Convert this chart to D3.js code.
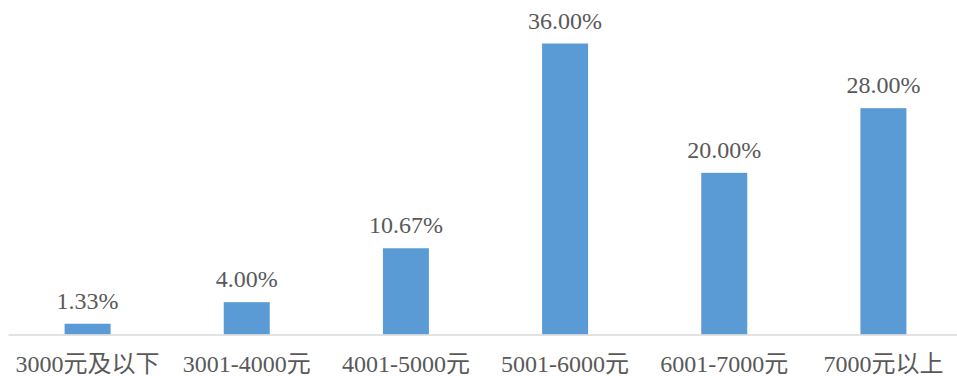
<!DOCTYPE html>
<html><head><meta charset="utf-8">
<script src="https://cdn.jsdelivr.net/npm/d3@7"></script>
<style>
html,body{margin:0;padding:0;background:#fff;}
svg text{font-family:"Liberation Serif","DejaVu Serif","Times New Roman",serif,"Noto Sans CJK SC" !important;fill:#595959;}
</style></head>
<body>
<svg id="chart" width="957" height="376"></svg>
<script>
const categories = ["3000元及以下","3001-4000元","4001-5000元","5001-6000元","6001-7000元","7000元以上"];
const values = [1.33, 4.00, 10.67, 36.00, 20.00, 28.00];
const valueLabels = ["1.33%","4.00%","10.67%","36.00%","20.00%","28.00%"];

const svg = d3.select("#chart");
const x = d3.scaleBand().domain(categories).range([8, 963]).paddingInner(0.711).paddingOuter(0.3555);
const y = d3.scaleLinear().domain([0, 40]).range([334.5, 334.5 - 8.083 * 40]);

svg.selectAll("rect.bar").data(values).enter().append("rect")
  .attr("class","bar")
  .attr("x",(d,i)=>x(categories[i]))
  .attr("width",x.bandwidth())
  .attr("y",d=>y(d))
  .attr("height",d=>y(0)-y(d))
  .attr("fill","#5b9bd5");

const axis = d3.axisBottom(x).tickSize(0).tickPadding(0).tickSizeOuter(0);
const g = svg.append("g").attr("transform",`translate(0,${y(0)})`).call(axis);
g.attr("font-family",null);
g.select(".domain").attr("stroke","#d9d9d9").attr("stroke-width",1.5);
g.selectAll(".tick text").attr("dy",null).attr("y",37).attr("font-size",24).attr("fill","#595959");

svg.selectAll("text.val").data(values).enter().append("text")
  .attr("class","val")
  .attr("x",(d,i)=>x(categories[i])+x.bandwidth()/2)
  .attr("y",d=>y(d)-15)
  .attr("text-anchor","middle")
  .attr("font-size",24)
  .text((d,i)=>valueLabels[i]);
</script>
</body></html>
